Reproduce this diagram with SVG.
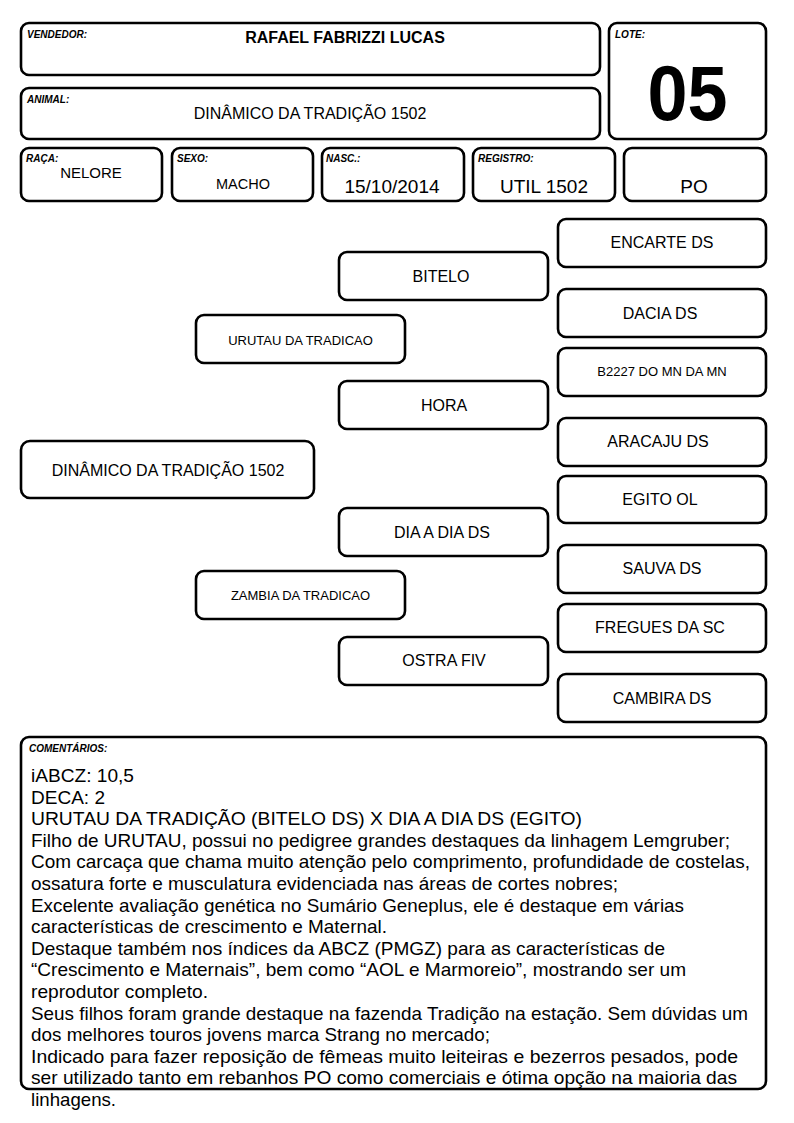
<svg xmlns="http://www.w3.org/2000/svg" width="794" height="1123" viewBox="0 0 794 1123">
<style>
  .box{fill:#fff;stroke:#000;stroke-width:2.6}
  text{font-family:"Liberation Sans",Arial,Helvetica,sans-serif;fill:#000}
  .lbl{font-size:10px;font-weight:bold;font-style:italic}
  .n16{font-size:16px;text-anchor:middle}
  .n13{font-size:13px;text-anchor:middle}
  .c{font-size:19px}
</style>
<rect width="794" height="1123" fill="#fff"/>

<g id="vendedor">
  <rect class="box" x="21" y="23" width="579" height="52" rx="8"/>
  <text class="lbl" x="27" y="38">VENDEDOR:</text>
  <text x="345" y="43" font-size="16" font-weight="bold" text-anchor="middle">RAFAEL FABRIZZI LUCAS</text>
</g>
<g id="animal">
  <rect class="box" x="21" y="88" width="579" height="51" rx="8"/>
  <text class="lbl" x="27" y="103">ANIMAL:</text>
  <text x="310" y="119" font-size="16" text-anchor="middle">DINÂMICO DA TRADIÇÃO 1502</text>
</g>
<g id="lote">
  <rect class="box" x="609" y="23" width="157" height="116" rx="8"/>
  <text class="lbl" x="615" y="38">LOTE:</text>
  <text x="687.5" y="120" font-size="78" font-weight="bold" text-anchor="middle" textLength="80" lengthAdjust="spacingAndGlyphs">05</text>
</g>

<g id="raca">
  <rect class="box" x="21" y="148" width="141" height="53" rx="8"/>
  <text class="lbl" x="26" y="162">RAÇA:</text>
  <text x="91" y="178" font-size="15" text-anchor="middle">NELORE</text>
</g>
<g id="sexo">
  <rect class="box" x="172" y="148" width="141" height="53" rx="8"/>
  <text class="lbl" x="177" y="162">SEXO:</text>
  <text x="243" y="189" font-size="14.5" text-anchor="middle">MACHO</text>
</g>
<g id="nasc">
  <rect class="box" x="322" y="148" width="142" height="53" rx="8"/>
  <text class="lbl" x="326" y="162">NASC.:</text>
  <text x="392" y="193" font-size="19" text-anchor="middle">15/10/2014</text>
</g>
<g id="registro">
  <rect class="box" x="473" y="148" width="142" height="53" rx="8"/>
  <text class="lbl" x="478" y="162">REGISTRO:</text>
  <text x="544" y="193" font-size="19" text-anchor="middle">UTIL 1502</text>
</g>
<g id="po">
  <rect class="box" x="624" y="148" width="142" height="53" rx="8"/>
  <text x="694" y="193" font-size="19" text-anchor="middle">PO</text>
</g>

<g id="connectors"></g>

<g id="n-dinamico">
  <rect class="box" x="21" y="441" width="293" height="57" rx="9"/>
  <text class="n16" x="168" y="475.5">DINÂMICO DA TRADIÇÃO 1502</text>
</g>
<g id="n-urutau">
  <rect class="box" x="196" y="315" width="209" height="48" rx="8"/>
  <text class="n13" x="300.5" y="344.5">URUTAU DA TRADICAO</text>
</g>
<g id="n-zambia">
  <rect class="box" x="196" y="571" width="209" height="48" rx="8"/>
  <text class="n13" x="300.5" y="600">ZAMBIA DA TRADICAO</text>
</g>
<g id="n-bitelo">
  <rect class="box" x="339" y="252" width="209" height="48" rx="8"/>
  <text class="n16" x="441" y="281.5">BITELO</text>
</g>
<g id="n-hora">
  <rect class="box" x="339" y="381" width="209" height="48" rx="8"/>
  <text class="n16" x="444" y="410.5">HORA</text>
</g>
<g id="n-diaadia">
  <rect class="box" x="339" y="508" width="209" height="48" rx="8"/>
  <text class="n16" x="442" y="537.5">DIA A DIA DS</text>
</g>
<g id="n-ostra">
  <rect class="box" x="339" y="637" width="209" height="48" rx="8"/>
  <text class="n16" x="444" y="666">OSTRA FIV</text>
</g>
<g id="n-encarte">
  <rect class="box" x="558" y="219" width="208" height="48" rx="8"/>
  <text class="n16" x="662" y="248">ENCARTE DS</text>
</g>
<g id="n-dacia">
  <rect class="box" x="558" y="289" width="208" height="48" rx="8"/>
  <text class="n16" x="660" y="318.5">DACIA DS</text>
</g>
<g id="n-b2227">
  <rect class="box" x="558" y="348" width="208" height="48" rx="8"/>
  <text class="n13" x="662" y="376">B2227 DO MN DA MN</text>
</g>
<g id="n-aracaju">
  <rect class="box" x="558" y="418" width="208" height="48" rx="8"/>
  <text class="n16" x="658" y="447">ARACAJU DS</text>
</g>
<g id="n-egito">
  <rect class="box" x="558" y="476" width="208" height="47" rx="8"/>
  <text class="n16" x="660" y="505">EGITO OL</text>
</g>
<g id="n-sauva">
  <rect class="box" x="558" y="545" width="208" height="48" rx="8"/>
  <text class="n16" x="662" y="574">SAUVA DS</text>
</g>
<g id="n-fregues">
  <rect class="box" x="558" y="604" width="208" height="48" rx="8"/>
  <text class="n16" x="660" y="633">FREGUES DA SC</text>
</g>
<g id="n-cambira">
  <rect class="box" x="558" y="674" width="208" height="48" rx="8"/>
  <text class="n16" x="662" y="703.5">CAMBIRA DS</text>
</g>

<g id="comentarios">
  <rect class="box" x="21" y="737" width="745" height="352" rx="8"/>
  <text class="lbl" x="29" y="752">COMENTÁRIOS:</text>
  <text class="c" x="31" y="782" textLength="103" lengthAdjust="spacingAndGlyphs">iABCZ: 10,5</text>
  <text class="c" x="31" y="803.6" textLength="74" lengthAdjust="spacingAndGlyphs">DECA: 2</text>
  <text class="c" x="31" y="825.2" textLength="551" lengthAdjust="spacingAndGlyphs">URUTAU DA TRADIÇÃO (BITELO DS) X DIA A DIA DS (EGITO)</text>
  <text class="c" x="31" y="846.8" textLength="699" lengthAdjust="spacingAndGlyphs">Filho de URUTAU, possui no pedigree grandes destaques da linhagem Lemgruber;</text>
  <text class="c" x="31" y="868.4" textLength="719" lengthAdjust="spacingAndGlyphs">Com carcaça que chama muito atenção pelo comprimento, profundidade de costelas,</text>
  <text class="c" x="31" y="890" textLength="587" lengthAdjust="spacingAndGlyphs">ossatura forte e musculatura evidenciada nas áreas de cortes nobres;</text>
  <text class="c" x="31" y="911.6" textLength="653" lengthAdjust="spacingAndGlyphs">Excelente avaliação genética no Sumário Geneplus, ele é destaque em várias</text>
  <text class="c" x="31" y="933.2" textLength="356" lengthAdjust="spacingAndGlyphs">características de crescimento e Maternal.</text>
  <text class="c" x="31" y="954.8" textLength="634" lengthAdjust="spacingAndGlyphs">Destaque também nos índices da ABCZ (PMGZ) para as características de</text>
  <text class="c" x="31" y="976.4" textLength="655" lengthAdjust="spacingAndGlyphs">“Crescimento e Maternais”, bem como “AOL e Marmoreio”, mostrando ser um</text>
  <text class="c" x="31" y="998" textLength="177" lengthAdjust="spacingAndGlyphs">reprodutor completo.</text>
  <text class="c" x="31" y="1019.6" textLength="717" lengthAdjust="spacingAndGlyphs">Seus filhos foram grande destaque na fazenda Tradição na estação. Sem dúvidas um</text>
  <text class="c" x="31" y="1041.2" textLength="459" lengthAdjust="spacingAndGlyphs">dos melhores touros jovens marca Strang no mercado;</text>
  <text class="c" x="31" y="1062.8" textLength="707" lengthAdjust="spacingAndGlyphs">Indicado para fazer reposição de fêmeas muito leiteiras e bezerros pesados, pode</text>
  <text class="c" x="31" y="1084.4" textLength="706" lengthAdjust="spacingAndGlyphs">ser utilizado tanto em rebanhos PO como comerciais e ótima opção na maioria das</text>
  <text class="c" x="31" y="1106" textLength="85" lengthAdjust="spacingAndGlyphs">linhagens.</text>
</g>
</svg>
